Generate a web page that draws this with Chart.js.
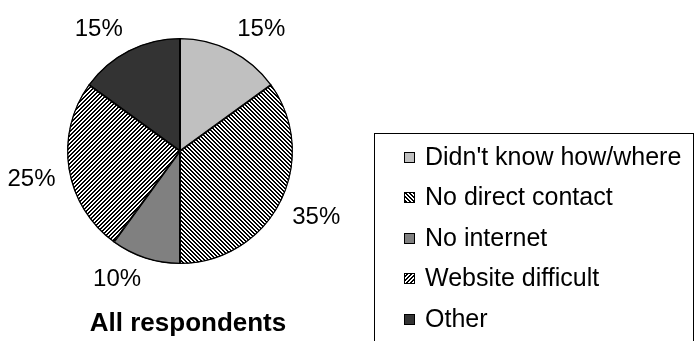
<!DOCTYPE html>
<html>
<head>
<meta charset="utf-8">
<script src="https://cdn.jsdelivr.net/npm/chart.js@4"></script>
<style>
  html, body { margin: 0; padding: 0; background: #ffffff; }
  #wrap { width: 694px; height: 341px; }
</style>
</head>
<body>
<div id="wrap"><canvas id="pieChart" width="694" height="341"></canvas></div>
<script>
// chart data
const categories = ["Didn't know how/where", 'No direct contact', 'No internet', 'Website difficult', 'Other'];
const shares = [15, 35, 10, 25, 15];
const chartTitle = 'All respondents';

const fontFamily = "'Liberation Sans', Arial, sans-serif";

// small tile patterns for the hatched slices
function makeHatch(dir) {
    const c = document.createElement('canvas');
    c.width = 4;
    c.height = 4;
    const g = c.getContext('2d');
    const img = g.createImageData(4, 4);
    for (let y = 0; y < 4; y++) {
        for (let x = 0; x < 4; x++) {
            const k = dir === 'down' ? ((x - y + 8) % 4) : ((x + y) % 4);
            const v = k < 2 ? 0 : 255;
            const i = (y * 4 + x) * 4;
            img.data[i] = v;
            img.data[i + 1] = v;
            img.data[i + 2] = v;
            img.data[i + 3] = 255;
        }
    }
    g.putImageData(img, 0, 0);
    return g.createPattern(c, 'repeat');
}

const ctx = document.getElementById('pieChart').getContext('2d');
const fills = ['#c0c0c0', makeHatch('down'), '#808080', makeHatch('up'), '#333333'];

// percent labels outside the slices, legend box and title
const extrasPlugin = {
    id: 'extras',
    afterDatasetsDraw(chart) {
        const c = chart.ctx;
        const arcs = chart.getDatasetMeta(0).data;
        c.save();
        c.fillStyle = '#000000';
        c.font = '24px ' + fontFamily;
        c.textAlign = 'center';
        c.textBaseline = 'middle';
        arcs.forEach((arc, i) => {
            const p = arc.getProps(['x', 'y', 'startAngle', 'endAngle', 'outerRadius'], true);
            const mid = (p.startAngle + p.endAngle) / 2;
            const txt = shares[i] + '%';
            const w = c.measureText(txt).width;
            // nearest corner of the label box sits just outside the arc
            const r = p.outerRadius + 13;
            const cx = p.x + Math.cos(mid) * r + Math.sign(Math.cos(mid)) * w / 2;
            const cy = p.y + Math.sin(mid) * r + Math.sign(Math.sin(mid)) * 9;
            c.fillText(txt, cx, cy);
        });

        // title under the pie
        c.font = 'bold 26px ' + fontFamily;
        c.fillText(chartTitle, 188, 324);

        // legend box (runs past the bottom edge)
        c.strokeStyle = '#000000';
        c.lineWidth = 1;
        c.strokeRect(374.5, 133.5, 319, 230);
        const rows = [157, 197, 238, 278, 319];
        c.textAlign = 'left';
        c.font = '25px ' + fontFamily;
        categories.forEach((name, i) => {
            const y = rows[i];
            c.fillStyle = fills[i];
            c.fillRect(404, y - 5, 11, 11);
            c.strokeRect(404.5, y - 4.5, 10, 10);
            c.fillStyle = '#000000';
            c.fillText(name, 425, y + 1);
        });
        c.restore();
    }
};

new Chart(ctx, {
    type: 'pie',
    data: {
        labels: categories,
        datasets: [{
            data: shares,
            backgroundColor: fills,
            borderColor: '#000000',
            borderWidth: 1,
            borderAlign: 'inner'
        }]
    },
    options: {
        responsive: false,
        animation: false,
        layout: {
            padding: { left: 67, right: 401, top: 38, bottom: 77 }
        },
        plugins: {
            legend: { display: false },
            tooltip: { enabled: false },
            title: { display: false }
        }
    },
    plugins: [extrasPlugin]
});
</script>
</body>
</html>
